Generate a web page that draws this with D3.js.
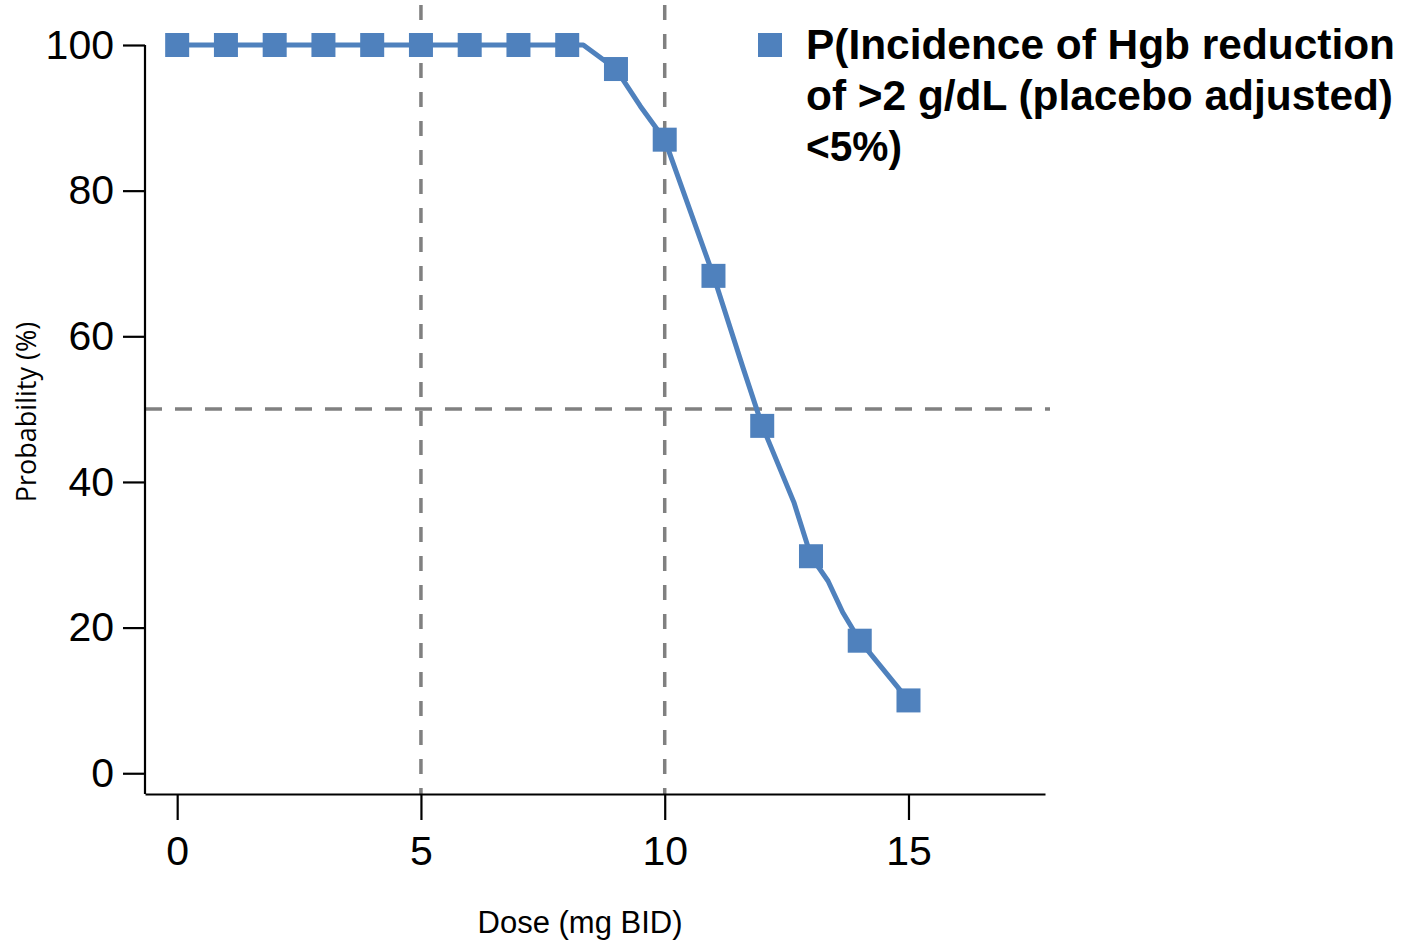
<!DOCTYPE html>
<html>
<head>
<meta charset="utf-8">
<script src="https://cdn.jsdelivr.net/npm/d3@7"></script>
<style>
  body { margin: 0; background: #fff; }
  text { font-family: "Liberation Sans", Arial, sans-serif; }
</style>
</head>
<body>
<div id="chart"></div>
<script>
// data
var doses = [0, 1, 2, 3, 4, 5, 6, 7, 8, 9, 10, 11, 12, 13, 14, 15];
var probs = [100, 100, 100, 100, 100, 100, 100, 100, 100, 96.7, 87.0, 68.3, 47.7, 29.8, 18.2, 10.0];

// the smooth curve drawn under the markers
var curveDoses = [0, 8, 8.33, 9, 9.5, 10, 11, 11.6, 12, 12.65, 13, 13.35, 13.65, 14, 15];
var curveProbs = [100, 100, 100, 96.7, 91.6, 87.0, 68.3, 55.8, 47.7, 37.2, 29.8, 26.4, 22.1, 18.2, 10.0];

var xTicks = [0, 5, 10, 15];
var yTicks = [0, 20, 40, 60, 80, 100];
var refDoses = [5, 10];
var refProb = 50;

var legendLines = ["P(Incidence of Hgb reduction", "of >2 g/dL (placebo adjusted)", "<5%)"];

var svgWidth = 1402;
var svgHeight = 941;
var blue = "#4f81bd";

var svg = d3.select("#chart")
    .append("svg")
    .attr("width", svgWidth)
    .attr("height", svgHeight);

var x = d3.scaleLinear().domain([-0.66, 17.8]).range([145, 1045]);
var y = d3.scaleLinear().domain([-2.85, 100]).range([794, 45]);

// reference lines
svg.selectAll(".vref")
    .data(refDoses)
    .enter()
    .append("line")
    .attr("x1", d => x(d)).attr("x2", d => x(d))
    .attr("y1", 5).attr("y2", 794)
    .attr("stroke", "#808080")
    .attr("stroke-width", 3.5)
    .attr("stroke-dasharray", "15,14");

svg.append("line")
    .attr("x1", x.range()[0]).attr("x2", 1050)
    .attr("y1", y(refProb)).attr("y2", y(refProb))
    .attr("stroke", "#808080")
    .attr("stroke-width", 3.5)
    .attr("stroke-dasharray", "17,13");

// axes
var xAxis = svg.append("g")
    .attr("transform", "translate(0,794)")
    .call(d3.axisBottom(x).tickValues(xTicks).tickSize(26).tickPadding(16).tickSizeOuter(0));

var yAxis = svg.append("g")
    .attr("transform", "translate(145,0)")
    .call(d3.axisLeft(y).tickValues(yTicks).tickSize(22).tickPadding(9).tickSizeOuter(0));

[xAxis, yAxis].forEach(function(g) {
    g.select(".domain").attr("stroke", "#000").attr("stroke-width", 2.2);
    g.selectAll(".tick line").attr("stroke", "#000").attr("stroke-width", 2.2);
    g.selectAll(".tick text")
        .attr("fill", "#000")
        .style("font-size", "41px")
        .style("font-family", "'Liberation Sans', Arial, sans-serif");
});
// y axis line only runs up to the 100 tick
yAxis.select(".domain").attr("d", "M0," + y(100) + "V794");
xAxis.selectAll(".tick text").attr("dy", "0.71em");

// curve
var line = d3.line()
    .x((d, i) => x(curveDoses[i]))
    .y(d => y(d));

svg.append("path")
    .datum(curveProbs)
    .attr("d", line)
    .attr("fill", "none")
    .attr("stroke", blue)
    .attr("stroke-width", 5)
    .attr("stroke-linejoin", "round");

// markers
svg.selectAll(".marker")
    .data(probs)
    .enter()
    .append("rect")
    .attr("class", "marker")
    .attr("x", (d, i) => x(doses[i]) - 12)
    .attr("y", d => y(d) - 12)
    .attr("width", 24)
    .attr("height", 24)
    .attr("fill", blue);

// axis titles
svg.append("text")
    .attr("x", 580)
    .attr("y", 933)
    .attr("text-anchor", "middle")
    .style("font-size", "31px")
    .text("Dose (mg BID)");

svg.append("text")
    .attr("transform", "translate(36,412) rotate(-90)")
    .attr("text-anchor", "middle")
    .style("font-size", "27px")
    .style("font-family", "'Open Sans', sans-serif")
    .text("Probability (%)");

// legend
svg.append("rect")
    .attr("x", 758).attr("y", 33)
    .attr("width", 24).attr("height", 24)
    .attr("fill", blue);

var legendWidths = [589, 587, 96];
svg.selectAll(".legend")
    .data(legendLines)
    .enter()
    .append("text")
    .attr("x", 806)
    .attr("y", (d, i) => 59 + i * 51)
    .attr("textLength", (d, i) => legendWidths[i])
    .attr("lengthAdjust", "spacingAndGlyphs")
    .style("font-size", "42px")
    .style("font-weight", "bold")
    .text(d => d);
</script>
</body>
</html>
